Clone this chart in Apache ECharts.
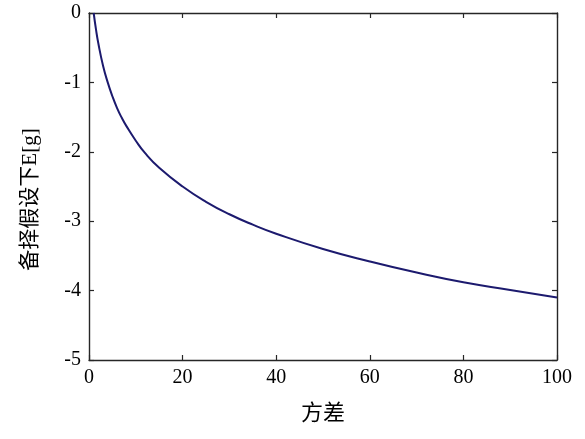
<!DOCTYPE html>
<html>
<head>
<meta charset="utf-8">
<script src="https://cdn.jsdelivr.net/npm/echarts@6/dist/echarts.min.js"></script>
<style>
  html, body { margin: 0; padding: 0; background: #fff; }
  #chart { width: 585px; height: 439px; }
</style>
</head>
<body>
<div id="chart"></div>
<script>
// 方差 (x) 与 备择假设下E[g] (y)
const variance = [1, 1.5, 2, 3, 4, 5, 6, 7, 8, 10, 12, 15, 20, 25, 30, 35, 40, 50, 60, 70, 80, 90, 100]
const expectG = [0, -0.24, -0.44, -0.76, -1.0, -1.2, -1.37, -1.51, -1.63, -1.84, -2.02, -2.23, -2.5, -2.72, -2.9, -3.05, -3.18, -3.40, -3.58, -3.74, -3.88, -3.99, -4.1]
const xTicks = [0, 20, 40, 60, 80, 100]
const yTicks = [-5, -4, -3, -2, -1, 0]

const font = '"Liberation Serif", "Times New Roman", "Noto Sans CJK SC", serif'
const axisColor = '#262626'

const axisCommon = {
  axisLine: { show: true, onZero: false, lineStyle: { color: axisColor, width: 1.4 } },
  axisTick: { show: true, inside: true, length: 5, lineStyle: { color: axisColor, width: 1.2 } },
  splitLine: { show: false },
}

const chart = echarts.init(document.getElementById('chart'))
chart.setOption({
  animation: false,
  grid: { left: 89, right: 28, top: 13, bottom: 79, containLabel: false },
  xAxis: [
    Object.assign({
      type: 'value',
      min: xTicks[0],
      max: xTicks[xTicks.length - 1],
      interval: 20,
      name: '方差',
      nameLocation: 'middle',
      nameGap: 43,
      nameTextStyle: { fontFamily: font, fontSize: 22, color: '#000' },
      axisLabel: { fontFamily: font, fontSize: 20, color: '#000', margin: 8 },
    }, axisCommon),
    Object.assign({
      type: 'value',
      position: 'top',
      min: xTicks[0],
      max: xTicks[xTicks.length - 1],
      interval: 20,
      axisLabel: { show: false },
    }, axisCommon),
  ],
  yAxis: [
    Object.assign({
      type: 'value',
      min: yTicks[0],
      max: yTicks[yTicks.length - 1],
      interval: 1,
      name: '备择假设下E[g]',
      nameLocation: 'middle',
      nameGap: 48,
      nameTextStyle: { fontFamily: font, fontSize: 21, color: '#000', padding: [0, 26, 0, 0] },
      axisLabel: { fontFamily: font, fontSize: 20, color: '#000', margin: 8 },
    }, axisCommon),
    Object.assign({
      type: 'value',
      position: 'right',
      min: yTicks[0],
      max: yTicks[yTicks.length - 1],
      interval: 1,
      axisLabel: { show: false },
    }, axisCommon),
  ],
  series: [
    {
      type: 'line',
      data: variance.map((v, i) => [v, expectG[i]]),
      smooth: true,
      symbol: 'none',
      lineStyle: { color: '#1c1a6e', width: 2 },
    },
  ],
})
</script>
</body>
</html>
